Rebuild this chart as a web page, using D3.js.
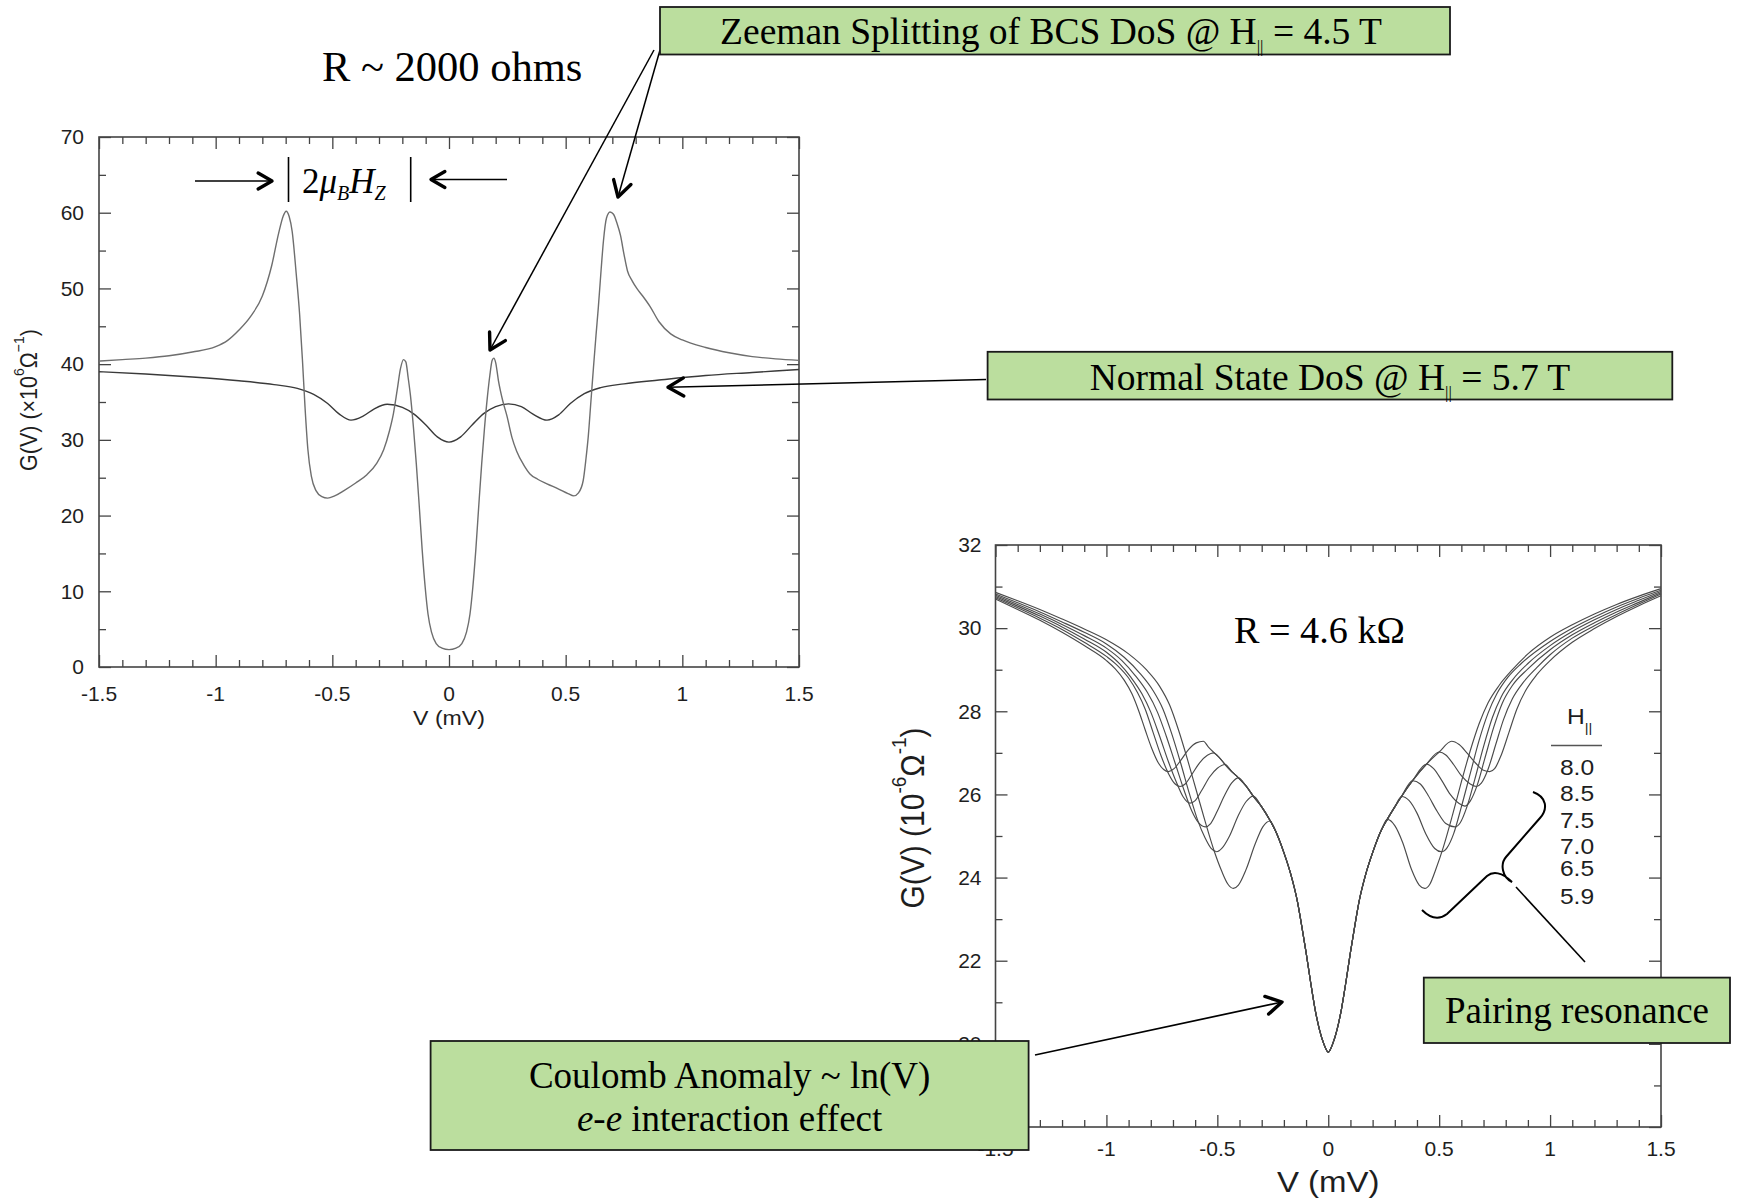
<!DOCTYPE html>
<html>
<head>
<meta charset="utf-8">
<script src="https://cdn.jsdelivr.net/npm/d3@7"></script>
<style>
  html, body { margin: 0; padding: 0; background: #fff; }
  svg { display: block; }
</style>
</head>
<body>
<script>
// ---------- Panel A: tunneling conductance, R ~ 2000 ohms ----------
const vTicksA = [-1.5, -1, -0.5, 0, 0.5, 1, 1.5];
const gTicksA = [0, 10, 20, 30, 40, 50, 60, 70];

// Zeeman-split BCS density of states, H|| = 4.5 T  [V (mV), G (1e-6/ohm)]
const zeeman45T = [
  [-1.5,40.4],[-1.4,40.6],[-1.3,40.8],[-1.2,41.1],[-1.1,41.6],[-1.0,42.3],[-0.95,43.1],[-0.9,44.5],
  [-0.85,46.3],[-0.8,49.0],[-0.76,53.0],[-0.73,57.3],[-0.71,59.6],[-0.698,60.2],[-0.685,59.5],
  [-0.672,57.5],[-0.655,52.0],[-0.64,46.5],[-0.628,40.5],[-0.617,34.3],[-0.605,28.8],[-0.59,25.2],
  [-0.57,23.3],[-0.545,22.5],[-0.52,22.3],[-0.49,22.6],[-0.45,23.3],[-0.4,24.3],[-0.352,25.4],
  [-0.31,26.9],[-0.28,28.7],[-0.255,31.2],[-0.238,33.5],[-0.222,36.6],[-0.208,39.4],[-0.195,40.6],
  [-0.185,40.3],[-0.175,38.2],[-0.165,35.8],[-0.152,31.5],[-0.14,26.8],[-0.128,21.5],[-0.115,15.5],
  [-0.102,10.5],[-0.09,7.0],[-0.075,4.6],[-0.055,3.1],[-0.03,2.5],[0,2.3],[0.03,2.5],[0.055,3.1],
  [0.075,4.6],[0.09,7.0],[0.102,10.5],[0.115,15.5],[0.128,21.5],[0.14,26.8],[0.152,31.5],[0.165,35.8],
  [0.175,38.5],[0.185,40.5],[0.192,40.8],[0.2,40.2],[0.212,37.8],[0.23,35.2],[0.248,33.2],[0.27,30.3],
  [0.29,28.5],[0.32,26.7],[0.347,25.5],[0.38,24.8],[0.42,24.2],[0.47,23.5],[0.51,22.9],[0.535,22.6],
  [0.555,23.0],[0.575,24.6],[0.587,27.5],[0.597,30.5],[0.608,35.0],[0.619,39.5],[0.63,43.8],[0.64,47.5],
  [0.652,52.5],[0.662,56.3],[0.675,59.3],[0.69,60.1],[0.705,59.8],[0.72,58.6],[0.735,57.0],[0.75,54.5],
  [0.765,52.3],[0.785,51.0],[0.805,50.0],[0.83,49.0],[0.862,47.6],[0.9,45.6],[0.95,44.0],[1.0,43.2],
  [1.1,42.2],[1.2,41.5],[1.3,41.0],[1.4,40.7],[1.5,40.5]
];

// Normal-state density of states, H|| = 5.7 T
const normal57T = [
  [-1.5,39.0],[-1.3,38.7],[-1.1,38.3],[-0.9,37.8],[-0.75,37.3],[-0.65,36.8],[-0.58,36.0],[-0.52,34.8],
  [-0.47,33.4],[-0.42,32.6],[-0.37,33.1],[-0.32,34.1],[-0.265,34.7],[-0.2,34.3],[-0.15,33.4],[-0.1,32.0],
  [-0.05,30.4],[0,29.7],[0.05,30.4],[0.1,32.0],[0.15,33.5],[0.2,34.4],[0.255,34.75],[0.31,34.4],
  [0.36,33.4],[0.42,32.6],[0.47,33.3],[0.52,34.8],[0.58,36.1],[0.65,36.9],[0.75,37.4],[0.9,37.9],
  [1.1,38.5],[1.3,38.9],[1.5,39.3]
];

// ---------- Panel B: R = 4.6 kOhm, parallel-field series ----------
const vTicksB = [-1.5, -1, -0.5, 0, 0.5, 1, 1.5];
const gTicksB = [18, 20, 22, 24, 26, 28, 30, 32];
const legendFields = ["8.0", "8.5", "7.5", "7.0", "6.5", "5.9"];

// Zero-bias Coulomb anomaly shared by every field
const coulombCore = [
  [-0.24,25.15],[-0.2,24.6],[-0.17,24.1],[-0.14,23.45],[-0.12,22.85],[-0.1,22.2],[-0.08,21.5],
  [-0.06,20.85],[-0.04,20.35],[-0.02,20.0],[0,19.8],[0.02,20.0],[0.04,20.35],[0.06,20.85],
  [0.08,21.5],[0.1,22.2],[0.12,22.85],[0.14,23.45],[0.17,24.1],[0.2,24.6],[0.24,25.15]
];

const left59 = [[-1.5,30.86],[-1.4,30.66],[-1.3,30.45],[-1.2,30.22],[-1.1,29.98],[-1.0,29.72],[-0.9,29.38],[-0.82,29.0],[-0.76,28.6],[-0.715,28.15],[-0.675,27.55],[-0.635,26.85],[-0.595,26.1],[-0.555,25.35],[-0.515,24.65],[-0.48,24.15],[-0.452,23.84],[-0.428,23.74],[-0.405,23.82],[-0.37,24.2],[-0.33,24.8],[-0.295,25.22],[-0.263,25.36]];
const right59 = [[0.266,25.4],[0.30,25.25],[0.335,24.85],[0.375,24.2],[0.41,23.82],[0.435,23.74],[0.458,23.84],[0.485,24.2],[0.52,24.75],[0.56,25.5],[0.6,26.3],[0.64,27.05],[0.68,27.7],[0.72,28.2],[0.77,28.62],[0.83,29.0],[0.9,29.38],[1.0,29.78],[1.1,30.08],[1.2,30.34],[1.3,30.57],[1.4,30.77],[1.5,30.95]];

const left65 = [[-1.5,30.82],[-1.4,30.61],[-1.3,30.39],[-1.2,30.15],[-1.1,29.9],[-1.0,29.62],[-0.92,29.3],[-0.85,28.92],[-0.79,28.5],[-0.745,28.05],[-0.705,27.45],[-0.665,26.75],[-0.625,26.0],[-0.59,25.4],[-0.555,24.95],[-0.528,24.7],[-0.503,24.62],[-0.48,24.7],[-0.445,25.0],[-0.405,25.5],[-0.37,25.83],[-0.338,25.96],[-0.30,25.7],[-0.263,25.38]];
const right65 = [[0.266,25.4],[0.30,25.7],[0.33,25.95],[0.365,25.85],[0.40,25.55],[0.44,25.05],[0.48,24.7],[0.511,24.62],[0.536,24.72],[0.565,25.05],[0.6,25.7],[0.64,26.5],[0.68,27.3],[0.72,27.95],[0.76,28.42],[0.81,28.82],[0.87,29.15],[1.0,29.68],[1.1,30.0],[1.2,30.27],[1.3,30.51],[1.4,30.72],[1.5,30.91]];

const left70 = [[-1.5,30.79],[-1.4,30.57],[-1.3,30.34],[-1.2,30.09],[-1.1,29.82],[-1.0,29.52],[-0.93,29.22],[-0.87,28.86],[-0.815,28.45],[-0.77,27.98],[-0.73,27.4],[-0.69,26.75],[-0.65,26.1],[-0.615,25.6],[-0.585,25.32],[-0.555,25.22],[-0.53,25.3],[-0.5,25.6],[-0.47,25.95],[-0.435,26.28],[-0.405,26.4],[-0.37,26.2],[-0.338,25.96],[-0.30,25.7],[-0.263,25.38]];
const right70 = [[0.266,25.4],[0.30,25.7],[0.33,25.95],[0.38,26.33],[0.415,26.25],[0.45,25.98],[0.49,25.6],[0.53,25.3],[0.571,25.22],[0.595,25.32],[0.625,25.7],[0.66,26.35],[0.7,27.15],[0.74,27.85],[0.78,28.35],[0.83,28.75],[0.9,29.15],[1.0,29.58],[1.1,29.92],[1.2,30.2],[1.3,30.45],[1.4,30.67],[1.5,30.88]];

const left75 = [[-1.5,30.76],[-1.4,30.53],[-1.3,30.29],[-1.2,30.03],[-1.1,29.74],[-1.0,29.42],[-0.94,29.14],[-0.89,28.82],[-0.84,28.42],[-0.8,27.98],[-0.76,27.4],[-0.72,26.78],[-0.685,26.3],[-0.655,25.95],[-0.623,25.79],[-0.60,25.85],[-0.57,26.1],[-0.535,26.42],[-0.5,26.63],[-0.465,26.72],[-0.435,26.55],[-0.405,26.4],[-0.37,26.2],[-0.338,25.96],[-0.30,25.7],[-0.263,25.38]];
const right75 = [[0.266,25.4],[0.30,25.7],[0.33,25.95],[0.38,26.33],[0.443,26.73],[0.475,26.62],[0.51,26.35],[0.55,26.0],[0.59,25.78],[0.616,25.72],[0.64,25.84],[0.67,26.2],[0.705,26.85],[0.745,27.6],[0.785,28.2],[0.83,28.62],[0.9,29.02],[1.0,29.48],[1.1,29.84],[1.2,30.13],[1.3,30.39],[1.4,30.62],[1.5,30.85]];

const left80 = [[-1.5,30.73],[-1.4,30.49],[-1.3,30.24],[-1.2,29.97],[-1.1,29.66],[-1.0,29.32],[-0.95,29.1],[-0.9,28.8],[-0.86,28.45],[-0.825,28.05],[-0.79,27.5],[-0.755,26.95],[-0.72,26.5],[-0.69,26.25],[-0.668,26.19],[-0.645,26.25],[-0.615,26.48],[-0.58,26.76],[-0.545,26.94],[-0.518,27.0],[-0.49,26.88],[-0.465,26.72],[-0.435,26.55],[-0.405,26.4],[-0.37,26.2],[-0.338,25.96],[-0.30,25.7],[-0.263,25.38]];
const right80 = [[0.266,25.4],[0.30,25.7],[0.33,25.95],[0.38,26.33],[0.443,26.73],[0.5,27.02],[0.53,26.95],[0.565,26.72],[0.6,26.45],[0.64,26.25],[0.668,26.19],[0.69,26.27],[0.72,26.6],[0.755,27.2],[0.79,27.8],[0.83,28.3],[0.88,28.7],[0.94,29.05],[1.0,29.36],[1.1,29.76],[1.2,30.06],[1.3,30.33],[1.4,30.58],[1.5,30.82]];

const left85 = [[-1.5,30.7],[-1.4,30.45],[-1.3,30.19],[-1.2,29.9],[-1.1,29.58],[-1.0,29.22],[-0.96,29.02],[-0.92,28.75],[-0.885,28.42],[-0.855,28.02],[-0.825,27.55],[-0.795,27.1],[-0.765,26.75],[-0.742,26.6],[-0.72,26.55],[-0.695,26.62],[-0.665,26.82],[-0.63,27.08],[-0.595,27.24],[-0.563,27.28],[-0.54,27.14],[-0.518,27.02],[-0.49,26.88],[-0.465,26.72],[-0.435,26.55],[-0.405,26.4],[-0.37,26.2],[-0.338,25.96],[-0.30,25.7],[-0.263,25.38]];
const right85 = [[0.266,25.4],[0.30,25.7],[0.33,25.95],[0.38,26.33],[0.443,26.73],[0.5,27.02],[0.556,27.28],[0.59,27.2],[0.625,27.0],[0.665,26.75],[0.70,26.58],[0.728,26.55],[0.75,26.62],[0.78,26.95],[0.815,27.5],[0.85,28.05],[0.89,28.5],[0.94,28.88],[1.0,29.22],[1.1,29.66],[1.2,29.99],[1.3,30.28],[1.4,30.54],[1.5,30.78]];

const fieldWings = [
  { h: "5.9", left: left59, right: right59 },
  { h: "6.5", left: left65, right: right65 },
  { h: "7.0", left: left70, right: right70 },
  { h: "7.5", left: left75, right: right75 },
  { h: "8.0", left: left80, right: right80 },
  { h: "8.5", left: left85, right: right85 }
];

// ---------- drawing ----------
const W = 1740, H = 1198;
const SANS = "'Liberation Sans', Arial, Helvetica, sans-serif";
const SERIF = "'Liberation Serif', 'Times New Roman', Times, serif";
const SX = 1.05;          // slight horizontal stretch of the tick lettering
const AXIS = "#444";
const GREEN = "#bbde9e";

const svg = d3.select("body").append("svg")
  .attr("width", W).attr("height", H)
  .attr("viewBox", `0 0 ${W} ${H}`);

function minorRange(lo, hi, step, majors) {
  const out = [];
  const n = Math.round((hi - lo) / step);
  for (let i = 0; i <= n; i++) {
    const v = +(lo + i * step).toFixed(4);
    if (!majors.some(m => Math.abs(m - v) < 1e-6)) out.push(v);
  }
  return out;
}

function drawFrame(g, x, y, box, xMaj, xMin, yMaj, yMin) {
  const tickAxis = (axis, tx, ty, vals, size) => g.append("g")
    .attr("transform", `translate(${tx},${ty})`)
    .call(axis.tickValues(vals).tickSize(-size).tickFormat(""))
    .call(s => s.select(".domain").remove())
    .call(s => s.selectAll("line").attr("stroke", AXIS).attr("stroke-width", 1.3));
  tickAxis(d3.axisBottom(x), 0, box.b, xMaj, 12);
  tickAxis(d3.axisBottom(x), 0, box.b, xMin, 7);
  tickAxis(d3.axisTop(x), 0, box.t, xMaj, 12);
  tickAxis(d3.axisTop(x), 0, box.t, xMin, 7);
  tickAxis(d3.axisLeft(y), box.l, 0, yMaj, 12);
  tickAxis(d3.axisLeft(y), box.l, 0, yMin, 7);
  tickAxis(d3.axisRight(y), box.r, 0, yMaj, 12);
  tickAxis(d3.axisRight(y), box.r, 0, yMin, 7);
  g.append("rect")
    .attr("x", box.l).attr("y", box.t)
    .attr("width", box.r - box.l).attr("height", box.b - box.t)
    .attr("fill", "none").attr("stroke", AXIS).attr("stroke-width", 1.6);
}

function tickLabels(g, x, y, box, xVals, yVals, size, xPad, yPad) {
  g.append("g").selectAll("text").data(xVals).join("text")
    .attr("transform", d => `translate(${x(d)},${box.b + xPad}) scale(${SX},1)`)
    .attr("text-anchor", "middle").attr("dominant-baseline", "central")
    .attr("font-family", SANS).attr("font-size", size).attr("fill", "#1e1e1e")
    .text(d => String(d));
  g.append("g").selectAll("text").data(yVals).join("text")
    .attr("transform", d => `translate(${box.l - yPad},${y(d)}) scale(${SX},1)`)
    .attr("text-anchor", "end").attr("dominant-baseline", "central")
    .attr("font-family", SANS).attr("font-size", size).attr("fill", "#1e1e1e")
    .text(d => String(d));
}

// ----- Panel A -----
const boxA = { l: 99, r: 799, t: 137, b: 667 };
const xA = d3.scaleLinear().domain([-1.5, 1.5]).range([boxA.l, boxA.r]);
const yA = d3.scaleLinear().domain([0, 70]).range([boxA.b, boxA.t]);
const gA = svg.append("g");
drawFrame(gA, xA, yA, boxA, vTicksA, minorRange(-1.5, 1.5, 0.1, vTicksA), gTicksA, minorRange(0, 70, 5, gTicksA));
tickLabels(gA, xA, yA, boxA, vTicksA, gTicksA, 20, 27, 15);

const lineA = d3.line().x(d => xA(d[0])).y(d => yA(d[1])).curve(d3.curveMonotoneX);
gA.append("path").datum(normal57T).attr("d", lineA)
  .attr("fill", "none").attr("stroke", "#3a3a3a").attr("stroke-width", 1.4);
gA.append("path").datum(zeeman45T).attr("d", lineA)
  .attr("fill", "none").attr("stroke", "#6e6e6e").attr("stroke-width", 1.4);

gA.append("text")
  .attr("transform", `translate(${(boxA.l + boxA.r) / 2},${718}) scale(1.1,1)`)
  .attr("text-anchor", "middle").attr("dominant-baseline", "central")
  .attr("font-family", SANS).attr("font-size", 21).attr("fill", "#1e1e1e")
  .text("V (mV)");
{
  const t = gA.append("text")
    .attr("transform", `translate(${29},${400}) scale(1.1,1) rotate(-90)`)
    .attr("text-anchor", "middle").attr("dominant-baseline", "central")
    .attr("font-family", SANS).attr("font-size", 21.5).attr("fill", "#1e1e1e");
  t.append("tspan").text("G(V) (\u00d710");
  t.append("tspan").attr("font-size", 14).attr("dy", -9).text("6");
  t.append("tspan").attr("dy", 9).text("\u03a9");
  t.append("tspan").attr("font-size", 14).attr("dy", -9).text("\u22121");
  t.append("tspan").attr("dy", 9).text(")");
}

// ----- Panel B -----
const boxB = { l: 995.5, r: 1661, t: 545, b: 1127 };
const xB = d3.scaleLinear().domain([-1.5, 1.5]).range([boxB.l, boxB.r]);
const yB = d3.scaleLinear().domain([18, 32]).range([boxB.b, boxB.t]);
const gB = svg.append("g");
drawFrame(gB, xB, yB, boxB, vTicksB, minorRange(-1.5, 1.5, 0.1, vTicksB), gTicksB, minorRange(18, 32, 1, gTicksB));
tickLabels(gB, xB, yB, boxB, vTicksB, gTicksB, 20, 22, 14);

const lineB = d3.line().x(d => xB(d[0])).y(d => yB(d[1])).curve(d3.curveMonotoneX);
gB.append("g").selectAll("path")
  .data(fieldWings.map(f => ({ h: f.h, pts: [...f.left, ...coulombCore, ...f.right] })))
  .join("path")
  .attr("d", d => lineB(d.pts))
  .attr("fill", "none").attr("stroke", "#4a4a4a").attr("stroke-width", 1.15);

gB.append("text")
  .attr("transform", `translate(${(boxB.l + boxB.r) / 2},${1182}) scale(1.1,1)`)
  .attr("text-anchor", "middle").attr("dominant-baseline", "central")
  .attr("font-family", SANS).attr("font-size", 30).attr("fill", "#1e1e1e")
  .text("V (mV)");
{
  const t = gB.append("text")
    .attr("transform", `translate(${912},${818}) scale(1.1,1) rotate(-90)`)
    .attr("text-anchor", "middle").attr("dominant-baseline", "central")
    .attr("font-family", SANS).attr("font-size", 30).attr("fill", "#1e1e1e");
  t.append("tspan").text("G(V) (10");
  t.append("tspan").attr("font-size", 19).attr("dy", -12).text("-6");
  t.append("tspan").attr("dy", 12).text("\u03a9");
  t.append("tspan").attr("font-size", 19).attr("dy", -12).text("-1");
  t.append("tspan").attr("dy", 12).text(")");
}

// legend: field values in tesla
{
  const lg = gB.append("g");
  const h = lg.append("text")
    .attr("transform", `translate(${1567},${724}) scale(1.12,1)`)
    .attr("text-anchor", "start")
    .attr("font-family", SANS).attr("font-size", 22).attr("fill", "#1e1e1e");
  h.append("tspan").text("H");
  h.append("tspan").attr("font-size", 13).attr("dy", 8).text("||");
  lg.append("line").attr("x1", 1551).attr("x2", 1602).attr("y1", 745.5).attr("y2", 745.5)
    .attr("stroke", "#555").attr("stroke-width", 1.5);
  const rowY = [767, 793.5, 820, 846.5, 868.5, 896.5];
  lg.selectAll("text.val").data(legendFields).join("text").attr("class", "val")
    .attr("transform", (d, i) => `translate(${1577},${rowY[i]}) scale(1.12,1)`)
    .attr("text-anchor", "middle").attr("dominant-baseline", "central")
    .attr("font-family", SANS).attr("font-size", 22).attr("fill", "#1e1e1e")
    .text(d => d);
}

// ----- annotations -----
const ann = svg.append("g");

function arrowHead(g, x1, y1, x2, y2, len, width) {
  const a = Math.atan2(y2 - y1, x2 - x1), s = Math.PI / 6;
  const p1 = [x2 - len * Math.cos(a - s), y2 - len * Math.sin(a - s)];
  const p2 = [x2 - len * Math.cos(a + s), y2 - len * Math.sin(a + s)];
  g.append("path").attr("d", `M${p1[0]},${p1[1]}L${x2},${y2}L${p2[0]},${p2[1]}`)
    .attr("fill", "none").attr("stroke", "#000").attr("stroke-width", width)
    .attr("stroke-linecap", "round").attr("stroke-linejoin", "round");
}
function arrow(g, x1, y1, x2, y2, lw, head, hw) {
  g.append("line").attr("x1", x1).attr("y1", y1).attr("x2", x2).attr("y2", y2)
    .attr("stroke", "#000").attr("stroke-width", lw);
  arrowHead(g, x1, y1, x2, y2, head, hw);
}

// Zeeman splitting width marker
arrow(ann, 195, 181, 272, 181, 1.6, 16, 3.4);
arrow(ann, 507, 179.5, 431, 179.5, 1.6, 16, 3.4);
ann.append("line").attr("x1", 288.5).attr("x2", 288.5).attr("y1", 157).attr("y2", 202)
  .attr("stroke", "#000").attr("stroke-width", 1.6);
ann.append("line").attr("x1", 410.7).attr("x2", 410.7).attr("y1", 157).attr("y2", 202)
  .attr("stroke", "#000").attr("stroke-width", 1.6);
{
  const t = ann.append("text").attr("x", 302).attr("y", 193)
    .attr("font-family", SERIF).attr("font-size", 35).attr("fill", "#000");
  t.append("tspan").text("2");
  t.append("tspan").attr("font-style", "italic").text("\u03bc");
  t.append("tspan").attr("font-style", "italic").attr("font-size", 20).attr("dy", 7).text("B");
  t.append("tspan").attr("font-style", "italic").attr("dy", -7).text("H");
  t.append("tspan").attr("font-style", "italic").attr("font-size", 20).attr("dy", 7).text("Z");
}

ann.append("text").attr("x", 322).attr("y", 81)
  .attr("font-family", SERIF).attr("font-size", 42.5).attr("fill", "#000")
  .text("R ~ 2000 ohms");

ann.append("text").attr("x", 1234).attr("y", 643)
  .attr("font-family", SERIF).attr("font-size", 38.2).attr("fill", "#000")
  .text("R = 4.6 k\u03a9");

// pointer lines
arrow(ann, 654, 50, 490, 350, 1.5, 18, 3.4);
arrow(ann, 660, 50, 618, 197, 1.5, 18, 3.4);
arrow(ann, 986, 379.5, 668, 387.3, 1.5, 18, 3.4);
arrow(ann, 1035, 1055, 1282, 1002, 1.7, 18, 3.4);

// brace grouping the resonance dips
ann.append("path")
  .attr("d", "M1533,792 C1547,797 1548,809 1540,818 L1506,857 C1500,864 1502,877 1512,882 " +
             "C1502,872 1493,871 1487,876 L1447,914 C1438,921 1430,918 1422,910")
  .attr("fill", "none").attr("stroke", "#000").attr("stroke-width", 2);
ann.append("line").attr("x1", 1516).attr("y1", 887).attr("x2", 1585).attr("y2", 962)
  .attr("stroke", "#000").attr("stroke-width", 1.6);

// green call-out boxes
function calloutBox(g, x, y, w, h) {
  g.append("rect").attr("x", x).attr("y", y).attr("width", w).attr("height", h)
    .attr("fill", GREEN).attr("stroke", "#1a1a1a").attr("stroke-width", 1.8);
}
function fieldText(g, cx, y, pre, post) {
  const t = g.append("text").attr("x", cx).attr("y", y).attr("text-anchor", "middle")
    .attr("font-family", SERIF).attr("font-size", 37.5).attr("fill", "#000");
  t.append("tspan").text(pre + "H");
  t.append("tspan").attr("font-size", 17).attr("dy", 8).text("||");
  t.append("tspan").attr("dy", -8).text(post);
}

calloutBox(ann, 660, 7, 790, 47.5);
fieldText(ann, 1051, 44, "Zeeman Splitting of BCS DoS @ ", " = 4.5 T");

calloutBox(ann, 987.6, 351.8, 684.7, 47.7);
fieldText(ann, 1330, 390, "Normal State DoS @ ", " = 5.7 T");

calloutBox(ann, 1423.8, 977.6, 306.2, 65.4);
ann.append("text").attr("x", 1577).attr("y", 1023).attr("text-anchor", "middle")
  .attr("font-family", SERIF).attr("font-size", 37).attr("fill", "#000")
  .text("Pairing resonance");

calloutBox(ann, 430.6, 1041, 598, 109);
ann.append("text").attr("x", 729.6).attr("y", 1088).attr("text-anchor", "middle")
  .attr("font-family", SERIF).attr("font-size", 37).attr("fill", "#000")
  .text("Coulomb Anomaly ~ ln(V)");
{
  const t = ann.append("text").attr("x", 729.6).attr("y", 1131).attr("text-anchor", "middle")
    .attr("font-family", SERIF).attr("font-size", 37).attr("fill", "#000");
  t.append("tspan").attr("font-style", "italic").text("e-e");
  t.append("tspan").text(" interaction effect");
}
</script>
</body>
</html>
